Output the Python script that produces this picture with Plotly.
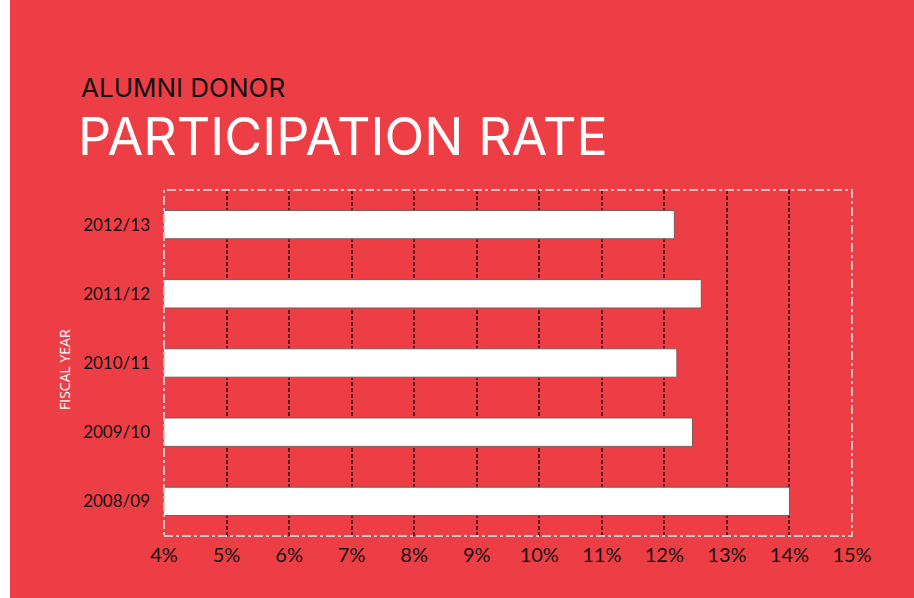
import plotly.graph_objects as go

years = ["2008/09", "2009/10", "2010/11", "2011/12", "2012/13"]
rates = [14.0, 12.45, 12.2, 12.59, 12.16]
tick_vals = [4, 5, 6, 7, 8, 9, 10, 11, 12, 13, 14, 15]
tick_text = [f"{v}%" for v in tick_vals]

RED = "#EE3E45"
W, H = 914, 598
L, R, T, B = 164, 62, 190, 62
pw = W - L - R
ph = H - T - B

def px_to_paper_x(px):
    return (px - L) / pw

def px_to_paper_y(py):
    return (H - B - py) / ph

fig = go.Figure()
fig.add_trace(go.Bar(
    y=years, x=rates, base=0, orientation="h",
    width=0.41,
    marker=dict(color="white", line=dict(color="#7a5a5a", width=1)),
    hoverinfo="x+y",
))

fig.update_layout(
    width=W, height=H,
    margin=dict(l=L, r=R, t=T, b=B, pad=0),
    paper_bgcolor=RED,
    plot_bgcolor=RED,
    showlegend=False,
    xaxis=dict(
        range=[4, 15], tickvals=tick_vals, ticktext=tick_text,
        showgrid=True, gridcolor="#5e1a1e", gridwidth=2, griddash="4px,2px",
        zeroline=False, showline=False, ticks="",
        tickfont=dict(family="Lato, Open Sans, sans-serif", size=20, color="#111"),
        ticklabelstandoff=5,
    ),
    yaxis=dict(
        range=[-0.5, 4.5], categoryorder="array", categoryarray=years,
        showgrid=False, zeroline=False, showline=False, ticks="",
        tickfont=dict(family="Lato, Open Sans, sans-serif", size=17, color="#111"),
        ticklabelstandoff=13,
    ),
    shapes=[
        dict(type="rect", xref="paper", yref="paper",
             x0=px_to_paper_x(-5), x1=px_to_paper_x(10),
             y0=px_to_paper_y(H + 5), y1=px_to_paper_y(-5),
             fillcolor="white", line=dict(width=0), layer="below"),
        dict(type="rect", xref="paper", yref="paper",
             x0=0, x1=1, y0=0, y1=1,
             line=dict(color="#d6c2c2", width=2, dash="dashdot"),
             fillcolor="rgba(0,0,0,0)", layer="above"),
    ],
    annotations=[
        dict(text="ALUMNI DONOR", xref="paper", yref="paper",
             x=px_to_paper_x(79), y=px_to_paper_y(105),
             xanchor="left", yanchor="bottom", showarrow=False,
             font=dict(family="Inter, Open Sans, sans-serif", size=26, color="#111")),
        dict(text="PARTICIPATION RATE", xref="paper", yref="paper",
             x=px_to_paper_x(76), y=px_to_paper_y(170),
             xanchor="left", yanchor="bottom", showarrow=False,
             font=dict(family="Inter, Open Sans, sans-serif", size=52, color="white")),
        dict(text="FISCAL YEAR", xref="paper", yref="paper",
             x=px_to_paper_x(64), y=px_to_paper_y(370),
             xanchor="center", yanchor="middle", showarrow=False, textangle=-90,
             font=dict(family="Open Sans, sans-serif", size=14, color="white")),
    ],
)

fig.write_html("out.html", config={"displayModeBar": False},
               post_script="document.body.style.margin='0px';document.body.style.overflow='hidden';")
